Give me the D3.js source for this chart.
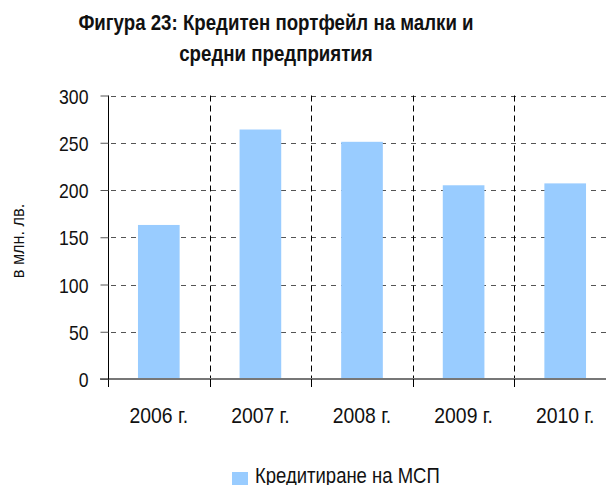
<!DOCTYPE html>
<meta charset="utf-8">
<script src="https://cdnjs.cloudflare.com/ajax/libs/d3/7.8.5/d3.min.js"></script>
<style>
	body { margin: 0; background: #fff; }
	svg { display: block; font-family: "Liberation Sans Narrow", "Arial Narrow", "Liberation Sans", Arial, sans-serif; }
</style>
<svg id="plot" width="606" height="485"></svg>
<script>
	// data
	var years = ["2006 г.", "2007 г.", "2008 г.", "2009 г.", "2010 г."];
	var smeLending = [163, 264, 251, 205, 207];
	var yTicks = [0, 50, 100, 150, 200, 250, 300];
	var titleLines = ["Фигура 23: Кредитен портфейл на малки и", "средни предприятия"];
	var seriesName = "Кредитиране на МСП";
	var yLabel = "в млн. лв.";

	var svg = d3.select("#plot");
	var mLeft = 108, mRight = 616, mTop = 95.5, mBottom = 379;

	var x = d3.scaleBand().domain(years).range([mLeft, mRight])
		.paddingInner(0.59).paddingOuter(0.295);
	var y = d3.scaleLinear().domain([0, 300]).range([mBottom, mTop]);
	var step = x.step();

	// squeeze text horizontally so it looks like arial narrow
	function squeeze(f){
		return function(sel){
			sel.each(function(){
				var w = this.getComputedTextLength();
				d3.select(this).attr("textLength", w * f).attr("lengthAdjust", "spacingAndGlyphs");
			});
		};
	}

	// title
	svg.selectAll(".title").data(titleLines).enter()
		.append("text")
		.attr("class", "title")
		.attr("x", 276)
		.attr("y", function(d, i){ return 30 + i * 31; })
		.attr("text-anchor", "middle")
		.style("font-size", "22.5px")
		.style("font-weight", "bold")
		.style("fill", "#111")
		.text(function(d){ return d; })
		.call(squeeze(0.83));

	// horizontal dashed grid
	svg.selectAll(".hgrid").data(yTicks.filter(function(d){ return d > 0; })).enter()
		.append("line")
		.attr("x1", mLeft).attr("x2", mRight)
		.attr("y1", function(d){ return Math.round(y(d)) + 0.5; })
		.attr("y2", function(d){ return Math.round(y(d)) + 0.5; })
		.style("stroke", "#555")
		.style("stroke-width", 1)
		.style("stroke-dasharray", "5,5")
		.style("stroke-dashoffset", -3);

	// vertical dashed dividers between categories
	var dividers = d3.range(1, years.length).map(function(i){ return mLeft + i * step; });
	svg.selectAll(".vgrid").data(dividers).enter()
		.append("line")
		.attr("x1", function(d){ return Math.round(d) + 0.5; })
		.attr("x2", function(d){ return Math.round(d) + 0.5; })
		.attr("y1", mTop).attr("y2", mBottom)
		.style("stroke", "#000")
		.style("stroke-width", 1)
		.style("stroke-dasharray", "6,4");

	// bars
	svg.selectAll(".bar").data(smeLending).enter()
		.append("rect")
		.attr("x", function(d, i){ return x(years[i]); })
		.attr("y", function(d){ return y(d); })
		.attr("width", x.bandwidth())
		.attr("height", function(d){ return y(0) - y(d); })
		.style("fill", "#99ccff");

	// x axis: zero line + ticks at category boundaries
	svg.append("line")
		.attr("x1", mLeft - 8).attr("x2", mRight)
		.attr("y1", mBottom).attr("y2", mBottom)
		.style("stroke", "#777").style("stroke-width", 2);
	svg.selectAll(".xtick").data([mLeft].concat(dividers)).enter()
		.append("line")
		.attr("x1", function(d){ return Math.round(d) + 0.5; })
		.attr("x2", function(d){ return Math.round(d) + 0.5; })
		.attr("y1", mBottom).attr("y2", mBottom + 8)
		.style("stroke", "#000");

	// y axis
	var yAxis = d3.axisLeft(y).tickValues(yTicks).tickSize(8).tickPadding(12);
	var gy = svg.append("g").attr("transform", "translate(" + (mLeft + 0.5) + ",0)").call(yAxis);
	gy.select(".domain").attr("d", "M0," + mTop + "V" + (mBottom + 8)).style("stroke", "#000");
	gy.selectAll(".tick line").style("stroke", "#555");
	gy.selectAll("text").attr("dy", "0.36em").style("font-size", "21px").style("fill", "#111")
		.style("font-family", "inherit").call(squeeze(0.84));

	// x labels
	svg.selectAll(".xlab").data(years).enter()
		.append("text")
		.attr("x", function(d){ return x(d) + x.bandwidth() / 2; })
		.attr("y", 423)
		.attr("text-anchor", "middle")
		.style("font-size", "21.5px")
		.style("fill", "#111")
		.text(function(d){ return d; })
		.call(squeeze(0.9));

	// y label
	svg.append("text")
		.attr("transform", "translate(24,241) rotate(-90)")
		.attr("text-anchor", "middle")
		.style("font-size", "18.5px")
		.style("fill", "#111")
		.text(yLabel)
		.call(squeeze(0.88));

	// legend
	svg.append("rect")
		.attr("x", 232).attr("y", 472)
		.attr("width", 16).attr("height", 16)
		.style("fill", "#99ccff");
	svg.append("text")
		.attr("x", 255).attr("y", 483)
		.style("font-size", "21.5px")
		.style("fill", "#111")
		.text(seriesName)
		.call(squeeze(0.86));
</script>
